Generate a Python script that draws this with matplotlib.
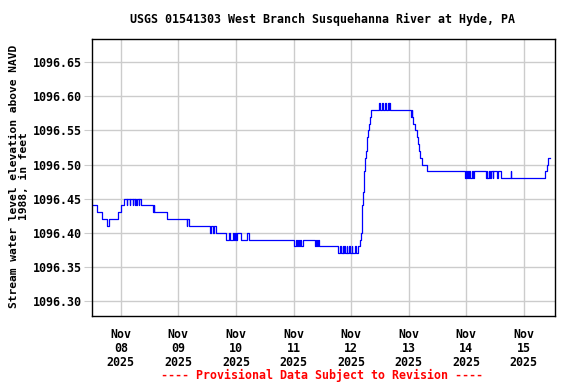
import numpy as np
import pandas as pd

import matplotlib
matplotlib.use("Agg")
import matplotlib.pyplot as plt
import matplotlib.dates as mdates

# change points of the gage reading (value holds until next time)
times = [
    "2025-11-07 12:00", "2025-11-07 14:00", "2025-11-07 16:00", "2025-11-07 18:15",
    "2025-11-07 19:00", "2025-11-07 22:45", "2025-11-08 00:15", "2025-11-08 01:30",
    "2025-11-08 02:30", "2025-11-08 02:45", "2025-11-08 03:45", "2025-11-08 04:00",
    "2025-11-08 05:00", "2025-11-08 05:15", "2025-11-08 05:45", "2025-11-08 06:00",
    "2025-11-08 06:30", "2025-11-08 06:45", "2025-11-08 07:30", "2025-11-08 07:45",
    "2025-11-08 08:30", "2025-11-08 13:15", "2025-11-08 13:45", "2025-11-08 14:00",
    "2025-11-08 19:15", "2025-11-09 03:30", "2025-11-09 03:45", "2025-11-09 04:15",
    "2025-11-09 13:15", "2025-11-09 13:45", "2025-11-09 14:15", "2025-11-09 14:45",
    "2025-11-09 15:45", "2025-11-09 20:00", "2025-11-09 21:00", "2025-11-09 21:30",
    "2025-11-09 22:45", "2025-11-09 23:15", "2025-11-09 23:45", "2025-11-10 00:00",
    "2025-11-10 00:30", "2025-11-10 02:00", "2025-11-10 04:45", "2025-11-10 05:30",
    "2025-11-11 00:15", "2025-11-11 01:00", "2025-11-11 01:15", "2025-11-11 02:00",
    "2025-11-11 02:15", "2025-11-11 02:45", "2025-11-11 03:15", "2025-11-11 04:00",
    "2025-11-11 08:45", "2025-11-11 09:15", "2025-11-11 09:45", "2025-11-11 10:15",
    "2025-11-11 10:45", "2025-11-11 18:45", "2025-11-11 19:30", "2025-11-11 19:45",
    "2025-11-11 20:30", "2025-11-11 20:45", "2025-11-11 21:15", "2025-11-11 21:30",
    "2025-11-11 22:15", "2025-11-11 22:30", "2025-11-11 23:15", "2025-11-11 23:30",
    "2025-11-12 00:15", "2025-11-12 00:30", "2025-11-12 01:30", "2025-11-12 02:00",
    "2025-11-12 02:45", "2025-11-12 03:45", "2025-11-12 04:15", "2025-11-12 04:30",
    "2025-11-12 04:45", "2025-11-12 05:00", "2025-11-12 05:15", "2025-11-12 05:30",
    "2025-11-12 05:45", "2025-11-12 06:00", "2025-11-12 06:15", "2025-11-12 06:30",
    "2025-11-12 06:45", "2025-11-12 07:00", "2025-11-12 07:30", "2025-11-12 08:00",
    "2025-11-12 08:30", "2025-11-12 11:30", "2025-11-12 12:15", "2025-11-12 13:00",
    "2025-11-12 13:30", "2025-11-12 14:00", "2025-11-12 14:30", "2025-11-12 15:30",
    "2025-11-12 15:45", "2025-11-12 16:00", "2025-11-12 16:15", "2025-11-13 01:00",
    "2025-11-13 01:15", "2025-11-13 01:30", "2025-11-13 02:00", "2025-11-13 02:45",
    "2025-11-13 03:30", "2025-11-13 03:45", "2025-11-13 04:15", "2025-11-13 04:45",
    "2025-11-13 05:30", "2025-11-13 07:45", "2025-11-13 23:30", "2025-11-13 23:45",
    "2025-11-14 00:00", "2025-11-14 00:30", "2025-11-14 00:45", "2025-11-14 01:15",
    "2025-11-14 01:45", "2025-11-14 02:15", "2025-11-14 02:45", "2025-11-14 03:15",
    "2025-11-14 08:15", "2025-11-14 08:30", "2025-11-14 08:45", "2025-11-14 09:30",
    "2025-11-14 09:45", "2025-11-14 10:15", "2025-11-14 11:00", "2025-11-14 11:15",
    "2025-11-14 13:00", "2025-11-14 13:15", "2025-11-14 14:30", "2025-11-14 18:30",
    "2025-11-14 18:45", "2025-11-15 09:00", "2025-11-15 09:30", "2025-11-15 10:00",
    "2025-11-15 10:45",
]
levels = [
    1096.44, 1096.43, 1096.42, 1096.41, 1096.42, 1096.43, 1096.44, 1096.45,
    1096.44, 1096.45, 1096.44, 1096.45, 1096.44, 1096.45, 1096.44, 1096.45,
    1096.44, 1096.45, 1096.44, 1096.45, 1096.44, 1096.43, 1096.44, 1096.43,
    1096.42, 1096.41, 1096.42, 1096.41, 1096.40, 1096.41, 1096.40, 1096.41,
    1096.40, 1096.39, 1096.40, 1096.39, 1096.40, 1096.39, 1096.40, 1096.39,
    1096.40, 1096.39, 1096.40, 1096.39, 1096.38, 1096.39, 1096.38, 1096.39,
    1096.38, 1096.39, 1096.38, 1096.39, 1096.38, 1096.39, 1096.38, 1096.39,
    1096.38, 1096.37, 1096.38, 1096.37, 1096.38, 1096.37, 1096.38, 1096.37,
    1096.38, 1096.37, 1096.38, 1096.37, 1096.38, 1096.37, 1096.38, 1096.37,
    1096.38, 1096.39, 1096.40, 1096.42, 1096.44, 1096.46, 1096.48, 1096.49,
    1096.50, 1096.51, 1096.52, 1096.53, 1096.54, 1096.55, 1096.56, 1096.57,
    1096.58, 1096.59, 1096.58, 1096.59, 1096.58, 1096.59, 1096.58, 1096.59,
    1096.58, 1096.59, 1096.58, 1096.57, 1096.58, 1096.57, 1096.56, 1096.55,
    1096.54, 1096.53, 1096.52, 1096.51, 1096.50, 1096.49, 1096.48, 1096.49,
    1096.48, 1096.49, 1096.48, 1096.49, 1096.48, 1096.49, 1096.48, 1096.49,
    1096.48, 1096.49, 1096.48, 1096.49, 1096.48, 1096.49, 1096.48, 1096.49,
    1096.48, 1096.49, 1096.48, 1096.49, 1096.48, 1096.49, 1096.50, 1096.51,
    1096.51,
]

y_ticks = [1096.30, 1096.35, 1096.40, 1096.45, 1096.50, 1096.55, 1096.60, 1096.65]
day_ticks = ["2025-11-08", "2025-11-09", "2025-11-10", "2025-11-11",
             "2025-11-12", "2025-11-13", "2025-11-14", "2025-11-15"]

title = "USGS 01541303 West Branch Susquehanna River at Hyde, PA"
ylabel = "Stream water level elevation above NAVD\n1988, in feet"
note = "---- Provisional Data Subject to Revision ----"

FONT = {"family": "DejaVu Sans Mono", "weight": "bold", "size": 8.4}

t = pd.to_datetime(times)
fig = plt.figure(figsize=(5.76, 3.84), dpi=100)
ax = fig.add_axes([92 / 576, 1 - 316 / 384, 463 / 576, 277 / 384])

ax.plot(t, levels, drawstyle="steps-post", color="#0000ff", lw=0.9)

ax.set_xlim(pd.Timestamp("2025-11-07 12:00"), pd.Timestamp("2025-11-15 13:00"))
ax.set_ylim(1096.278, 1096.684)

ax.set_yticks(y_ticks)
ax.set_yticklabels([f"{v:.2f}" for v in y_ticks], fontdict=FONT)
xt = pd.to_datetime(day_ticks)
ax.set_xticks(xt)
ax.set_xticklabels([d.strftime("%b\n%d\n%Y") for d in xt], fontdict=FONT)
for lab in ax.get_xticklabels():
    lab.set_linespacing(1.1)

ax.grid(True, color="#cccccc", lw=1)
ax.set_axisbelow(True)
ax.tick_params(axis="y", length=6, color="#cccccc", pad=1)
ax.tick_params(axis="x", length=0, pad=9)
for s in ax.spines.values():
    s.set_color("black")
    s.set_linewidth(1)

fig.text(19 / 576, 1 - 176 / 384, ylabel, rotation=90, ha="center", va="center",
         multialignment="center", linespacing=1.1,
         family="DejaVu Sans Mono", weight="bold", size=8.1)
fig.text(323 / 576, 1 - 19 / 384, title, ha="center", va="center", **FONT)
fig.text(322 / 576, 1 - 375 / 384, note, ha="center", va="center", color="#ff0000", **FONT)

fig.savefig("out.png", dpi=100)
